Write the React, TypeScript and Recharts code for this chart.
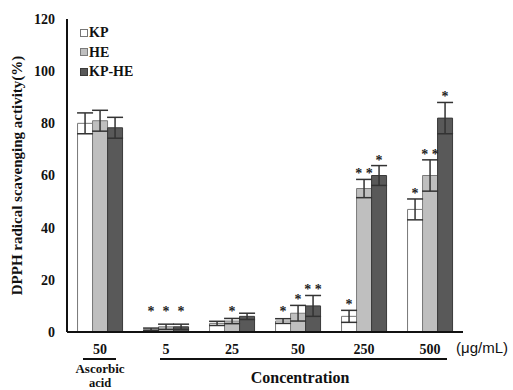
import React from 'react';
import { BarChart, Bar, XAxis, YAxis, ErrorBar, LabelList } from 'recharts';

const categories = ['50', '5', '25', '50', '250', '500'];
const kpValues = [80, 1, 3.3, 4.2, 6, 47];
const kpErrors = [4, 0.5, 0.8, 0.9, 2.3, 4];
const heValues = [81, 2, 4.2, 7.2, 55, 60];
const heErrors = [4, 1, 1, 3, 3.5, 6];
const kpheValues = [78.3, 2, 6, 10, 60, 82];
const kpheErrors = [4, 1, 1.2, 4, 3.8, 6];
const kpSig = ['', '*', '', '*', '*', '*'];
const heSig = ['', '*', '*', '*', '**', '**'];
const kpheSig = ['', '*', '', '**', '*', '*'];
const yTicks = [0, 20, 40, 60, 80, 100, 120];

const data = categories.map((c, i) => ({
  id: i,
  name: c,
  kp: kpValues[i],
  kpErr: kpErrors[i],
  kpSig: kpSig[i],
  he: heValues[i],
  heErr: heErrors[i],
  heSig: heSig[i],
  kphe: kpheValues[i],
  kpheErr: kpheErrors[i],
  kpheSig: kpheSig[i],
}));

const SERIF = '"Liberation Serif", "Times New Roman", serif';
const SANS = '"Liberation Sans", Arial, sans-serif';

const series = [
  { key: 'kp', name: 'KP', fill: '#ffffff', stroke: '#777777', values: kpValues, errors: kpErrors },
  { key: 'he', name: 'HE', fill: '#bfbfbf', stroke: '#7a7a7a', values: heValues, errors: heErrors },
  { key: 'kphe', name: 'KP-HE', fill: '#595959', stroke: '#3a3a3a', values: kpheValues, errors: kpheErrors },
];

const makeSigLabel = (values: number[], errors: number[]) => (props: any) => {
  const { x, y, width, height, value, index } = props;
  if (!value) return null;
  const v = values[index];
  const e = errors[index];
  const ppu = v > 0 ? Number(height) / v : 0;
  const top = Number(y) - e * ppu;
  const zero = Number(y) + Number(height);
  const baseline = Math.min(top - 1, zero - 16);
  const text = value === '**' ? '* *' : '*';
  return (
    <text
      x={Number(x) + Number(width) / 2}
      y={baseline}
      textAnchor="middle"
      fontFamily={SERIF}
      fontWeight="bold"
      fontSize={14}
      fill="#222"
    >
      {text}
    </text>
  );
};

const XTick = (props: any) => {
  const { x, y, payload } = props;
  const i = payload.index;
  const half = 33;
  return (
    <g>
      <text x={x} y={y + 22} textAnchor="middle" fontFamily={SERIF} fontWeight="bold" fontSize={14} fill="#111">
        {categories[i]}
      </text>
      {i === 0 && (
        <g>
          <line x1={x - 17} x2={x + 16} y1={y + 27} y2={y + 27} stroke="#111" strokeWidth={2} />
          <text x={x} y={y + 41} textAnchor="middle" fontFamily={SERIF} fontWeight="bold" fontSize={13} fill="#111">
            Ascorbic
          </text>
          <text x={x} y={y + 55} textAnchor="middle" fontFamily={SERIF} fontWeight="bold" fontSize={12.5} fill="#111">
            acid
          </text>
        </g>
      )}
      {i >= 1 && (
        <line
          x1={i === 1 ? x - 6 : x - half}
          x2={i === 5 ? x + 17 : x + half}
          y1={y + 27}
          y2={y + 27}
          stroke="#111"
          strokeWidth={2}
        />
      )}
      {i === 3 && (
        <text x={x + 2} y={y + 51} textAnchor="middle" fontFamily={SERIF} fontWeight="bold" fontSize={16} fill="#111">
          Concentration
        </text>
      )}
      {i === 5 && (
        <text x={x + 26} y={y + 21} textAnchor="start" fontFamily={SANS} fontSize={15} fill="#111">
          (μg/mL)
        </text>
      )}
    </g>
  );
};

const LegendBox = () => (
  <div style={{ position: 'absolute', left: 80, top: 23, display: 'flex', flexDirection: 'column' }}>
    {series.map((s) => (
      <div key={s.key} style={{ display: 'flex', alignItems: 'center', height: 19.5 }}>
        <span
          style={{
            display: 'inline-block',
            width: 6,
            height: 6,
            background: s.fill,
            border: `1px solid ${s.stroke}`,
            marginRight: 1,
          }}
        />
        <span style={{ fontFamily: SERIF, fontWeight: 'bold', fontSize: 14, color: '#111', lineHeight: '19px' }}>
          {s.name}
        </span>
      </div>
    ))}
  </div>
);

export default function App() {
  return (
    <div style={{ position: 'absolute', left: 0, top: 0, width: 513, height: 390, background: '#fff', overflow: 'hidden' }}>
      <BarChart
        width={513}
        height={390}
        data={data}
        margin={{ top: 19, right: 50, left: 0, bottom: 0 }}
        barCategoryGap="16%"
        barGap={0}
      >
        <XAxis
          dataKey="id"
          xAxisId="bottom"
          height={58}
          tickLine={false}
          tickSize={0}
          tickMargin={0}
          axisLine={{ stroke: '#111', strokeWidth: 2 }}
          tick={<XTick />}
          interval={0}
        />
        <XAxis
          dataKey="id"
          xAxisId="top"
          orientation="top"
          height={0}
          tick={false}
          tickLine={false}
          axisLine={{ stroke: '#111', strokeWidth: 2 }}
        />
        <YAxis
          yAxisId="left"
          width={67}
          domain={[0, 120]}
          ticks={yTicks}
          interval={0}
          tickLine={false}
          tickMargin={6}
          axisLine={{ stroke: '#111', strokeWidth: 2 }}
          tick={{ fontFamily: SERIF, fontWeight: 'bold', fontSize: 14, fill: '#111' }}
          label={(p: any) => {
            const vb = p.viewBox;
            const cx = 22;
            const cy = vb.y + vb.height / 2;
            return (
              <text
                x={cx}
                y={cy}
                transform={`rotate(-90, ${cx}, ${cy})`}
                textAnchor="middle"
                fontFamily={SERIF}
                fontWeight="bold"
                fontSize={15}
                fill="#111"
              >
                DPPH radical scavenging activity(%)
              </text>
            );
          }}
        />
        <YAxis
          yAxisId="right"
          orientation="right"
          width={0}
          domain={[0, 120]}
          tick={false}
          tickLine={false}
          axisLine={{ stroke: '#111', strokeWidth: 2 }}
        />
        {series.map((s) => (
          <Bar
            key={s.key}
            dataKey={s.key}
            name={s.name}
            xAxisId="bottom"
            yAxisId="left"
            fill={s.fill}
            stroke={s.stroke}
            strokeWidth={1}
            isAnimationActive={false}
          >
            <ErrorBar dataKey={`${s.key}Err`} width={8} stroke="#333" strokeWidth={1.5} />
            <LabelList dataKey={`${s.key}Sig`} content={makeSigLabel(s.values, s.errors)} />
          </Bar>
        ))}
      </BarChart>
      <LegendBox />
    </div>
  );
}
